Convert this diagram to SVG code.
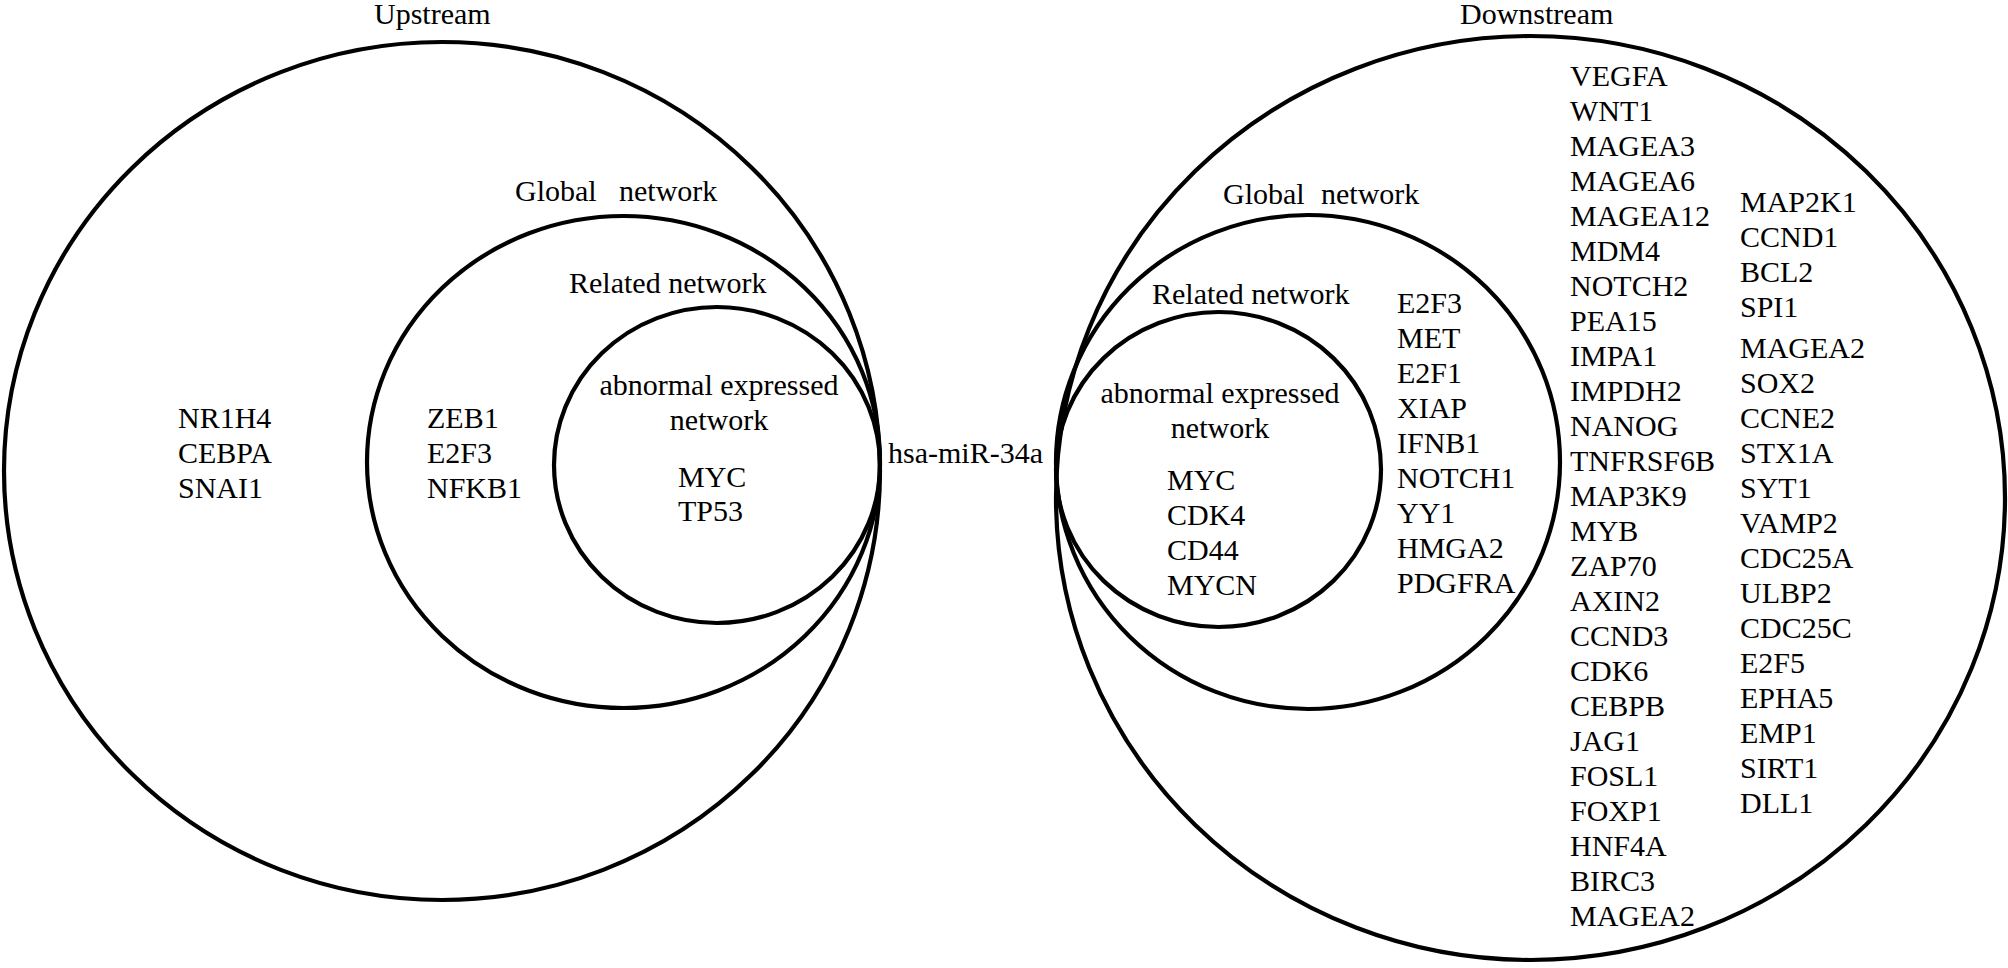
<svg xmlns="http://www.w3.org/2000/svg" width="2008" height="968" viewBox="0 0 2008 968">
<style>
.ring{fill:none;stroke:#000;stroke-width:4.2}
text{font-family:"Liberation Serif","Times New Roman",serif;font-size:30px;fill:#000}
.c{text-anchor:middle}
</style>
<rect width="2008" height="968" fill="#fff"/>
<g id="connectors"></g>
<g id="upstream">
<ellipse class="ring" cx="442" cy="471" rx="438" ry="429"/>
<text x="374" y="24">Upstream</text>
<text x="178" y="428">NR1H4</text>
<text x="178" y="463">CEBPA</text>
<text x="178" y="498">SNAI1</text>
</g>
<g id="upstream-global">
<ellipse class="ring" cx="623.5" cy="462" rx="256.5" ry="246"/>
<text x="515" y="201">Global<tspan x="619">network</tspan></text>
<text x="427" y="428">ZEB1</text>
<text x="427" y="463">E2F3</text>
<text x="427" y="498">NFKB1</text>
</g>
<g id="upstream-related">
<ellipse class="ring" cx="717" cy="465" rx="163" ry="158"/>
<text x="569" y="293">Related network</text>
<text class="c" x="719" y="395">abnormal expressed</text>
<text class="c" x="719" y="430">network</text>
<text x="678" y="487">MYC</text>
<text x="678" y="521">TP53</text>
</g>
<g id="mirna">
<text x="888" y="463">hsa-miR-34a</text>
</g>
<g id="downstream">
<ellipse class="ring" cx="1530.5" cy="498" rx="474.5" ry="462"/>
<text x="1460" y="24">Downstream</text>
<text x="1570" y="86">VEGFA</text>
<text x="1570" y="121">WNT1</text>
<text x="1570" y="156">MAGEA3</text>
<text x="1570" y="191">MAGEA6</text>
<text x="1570" y="226">MAGEA12</text>
<text x="1570" y="261">MDM4</text>
<text x="1570" y="296">NOTCH2</text>
<text x="1570" y="331">PEA15</text>
<text x="1570" y="366">IMPA1</text>
<text x="1570" y="401">IMPDH2</text>
<text x="1570" y="436">NANOG</text>
<text x="1570" y="471">TNFRSF6B</text>
<text x="1570" y="506">MAP3K9</text>
<text x="1570" y="541">MYB</text>
<text x="1570" y="576">ZAP70</text>
<text x="1570" y="611">AXIN2</text>
<text x="1570" y="646">CCND3</text>
<text x="1570" y="681">CDK6</text>
<text x="1570" y="716">CEBPB</text>
<text x="1570" y="751">JAG1</text>
<text x="1570" y="786">FOSL1</text>
<text x="1570" y="821">FOXP1</text>
<text x="1570" y="856">HNF4A</text>
<text x="1570" y="891">BIRC3</text>
<text x="1570" y="926">MAGEA2</text>
<text x="1740" y="212">MAP2K1</text>
<text x="1740" y="247">CCND1</text>
<text x="1740" y="282">BCL2</text>
<text x="1740" y="317">SPI1</text>
<text x="1740" y="358">MAGEA2</text>
<text x="1740" y="393">SOX2</text>
<text x="1740" y="428">CCNE2</text>
<text x="1740" y="463">STX1A</text>
<text x="1740" y="498">SYT1</text>
<text x="1740" y="533">VAMP2</text>
<text x="1740" y="568">CDC25A</text>
<text x="1740" y="603">ULBP2</text>
<text x="1740" y="638">CDC25C</text>
<text x="1740" y="673">E2F5</text>
<text x="1740" y="708">EPHA5</text>
<text x="1740" y="743">EMP1</text>
<text x="1740" y="778">SIRT1</text>
<text x="1740" y="813">DLL1</text>
</g>
<g id="downstream-global">
<ellipse class="ring" cx="1308" cy="462" rx="252" ry="247"/>
<text x="1223" y="204">Global<tspan x="1321">network</tspan></text>
<text x="1397" y="313">E2F3</text>
<text x="1397" y="348">MET</text>
<text x="1397" y="383">E2F1</text>
<text x="1397" y="418">XIAP</text>
<text x="1397" y="453">IFNB1</text>
<text x="1397" y="488">NOTCH1</text>
<text x="1397" y="523">YY1</text>
<text x="1397" y="558">HMGA2</text>
<text x="1397" y="593">PDGFRA</text>
</g>
<g id="downstream-related">
<ellipse class="ring" cx="1218.5" cy="469.5" rx="162.5" ry="157.5"/>
<text x="1152" y="304">Related network</text>
<text class="c" x="1220" y="403">abnormal expressed</text>
<text class="c" x="1220" y="438">network</text>
<text x="1167" y="490">MYC</text>
<text x="1167" y="525">CDK4</text>
<text x="1167" y="560">CD44</text>
<text x="1167" y="595">MYCN</text>
</g>
</svg>
